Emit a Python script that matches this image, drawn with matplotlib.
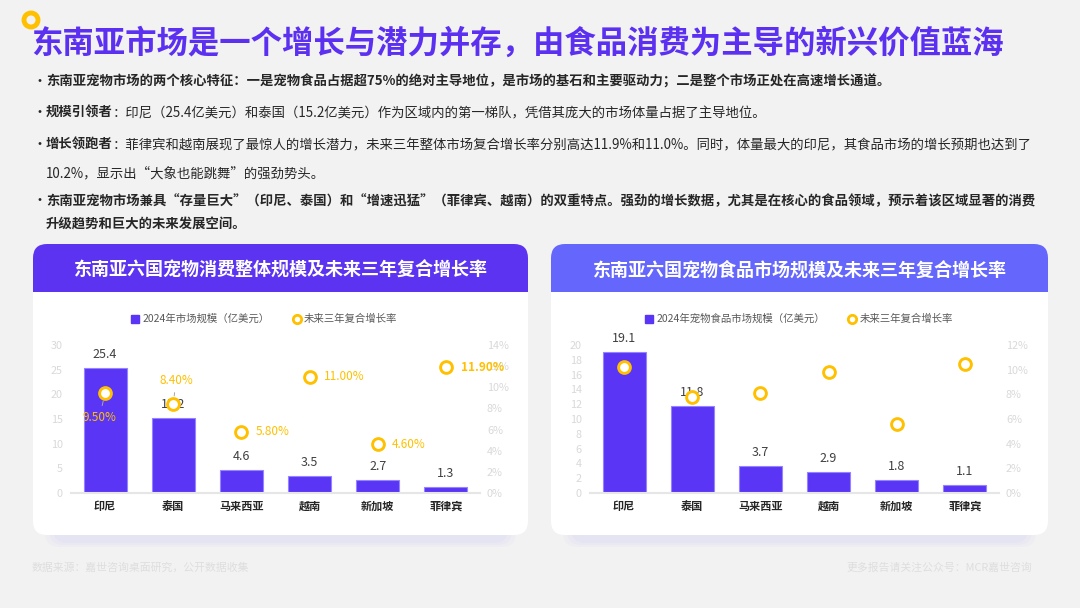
import matplotlib
matplotlib.use('Agg')
import matplotlib.pyplot as plt
from matplotlib.patches import FancyBboxPatch, Rectangle, Circle
from matplotlib.lines import Line2D

plt.rcParams['font.family'] = ['Noto Sans CJK SC', 'DejaVu Sans']

# ---- data ----
countries = ['印尼', '泰国', '马来西亚', '越南', '新加坡', '菲律宾']
total_size = [25.4, 15.2, 4.6, 3.5, 2.7, 1.3]      # 亿美元
total_cagr = [9.5, 8.4, 5.8, 11.0, 4.6, 11.9]      # %
food_size = [19.1, 11.8, 3.7, 2.9, 1.8, 1.1]       # 亿美元
food_cagr = [10.2, 7.8, 8.1, 9.8, 5.6, 10.5]       # %

PURPLE = '#5a35f5'
GOLD = '#ffc000'
W, H = 1080, 608

fig = plt.figure(figsize=(W / 100, H / 100), dpi=100)
fig.patch.set_facecolor('#f2f2f2')

# background axes in pixel units (y down)
bg = fig.add_axes([0, 0, 1, 1])
bg.set_xlim(0, W)
bg.set_ylim(H, 0)
bg.axis('off')

# title
bg.add_patch(Circle((31, 20), 7, fill=False, edgecolor=GOLD, lw=3.5))
bg.text(31, 44, '东南亚市场是一个增长与潜力并存，由食品消费为主导的新兴价值蓝海',
        fontsize=22.6, fontweight='bold', color='#5b30f0', va='center', ha='left')


def rich_line(x, y, parts, bullet=True):
    renderer = fig.canvas.get_renderer()
    if bullet:
        bg.text(32, y, '•', fontsize=10, color='#262626', va='center', ha='left')
    for s, weight in parts:
        t = bg.text(x, y, s, fontsize=9.6, fontweight=weight, color='#262626',
                    va='center', ha='left')
        x += t.get_window_extent(renderer).width


rich_line(46, 82, [('东南亚宠物市场的两个核心特征：一是宠物食品占据超75%的绝对主导地位，'
                    '是市场的基石和主要驱动力；二是整个市场正处在高速增长通道。', 'bold')])
rich_line(46, 113, [('规模引领者', 'bold'),
                    ('：印尼（25.4亿美元）和泰国（15.2亿美元）作为区域内的第一梯队，'
                     '凭借其庞大的市场体量占据了主导地位。', 'normal')])
rich_line(46, 145, [('增长领跑者', 'bold'),
                    ('：菲律宾和越南展现了最惊人的增长潜力，未来三年整体市场复合增长率分别高达11.9%和11.0%。'
                     '同时，体量最大的印尼，其食品市场的增长预期也达到了', 'normal')])
rich_line(46, 173, [('10.2%，显示出“大象也能跳舞”的强劲势头。', 'normal')], bullet=False)
rich_line(46, 201, [('东南亚宠物市场兼具“存量巨大”（印尼、泰国）和“增速迅猛”（菲律宾、越南）的双重特点。'
                     '强劲的增长数据，尤其是在核心的食品领域，预示着该区域显著的消费', 'bold')])
rich_line(46, 225, [('升级趋势和巨大的未来发展空间。', 'bold')], bullet=False)


def card(x0, x1, header_color, title):
    top, bottom, hb = 244, 535, 292
    for i, a in enumerate([0.08, 0.10, 0.12]):
        bg.add_patch(FancyBboxPatch((x0 + 12 + 4 * i, top + 20), x1 - x0 - 24 - 8 * i,
                                    bottom - top - 8 - 2 * i,
                                    boxstyle='round,pad=0,rounding_size=14',
                                    fc='#c8c0f5', ec='none', alpha=a))
    bg.add_patch(FancyBboxPatch((x0, top), x1 - x0, bottom - top,
                                boxstyle='round,pad=0,rounding_size=14', fc='white', ec='none'))
    bg.add_patch(FancyBboxPatch((x0, top), x1 - x0, hb - top + 20,
                                boxstyle='round,pad=0,rounding_size=14', fc=header_color, ec='none'))
    bg.add_patch(Rectangle((x0, hb), x1 - x0, 24, fc='white', ec='none'))
    bg.text((x0 + x1) / 2, 270, title, fontsize=13, fontweight='bold', color='white',
            va='center', ha='center')


card(33, 528, '#5b33f0', '东南亚六国宠物消费整体规模及未来三年复合增长率')
card(551, 1048, '#6466fc', '东南亚六国宠物食品市场规模及未来三年复合增长率')


def draw_chart(x0, sizes, rates, ymax, ystep, rmax, size_name, legend_x, rate_labels=None):
    ax = fig.add_axes([x0 / W, 1 - 493 / H, 409 / W, 148 / H])
    ax.patch.set_alpha(0)
    xs = list(range(len(countries)))
    bars = ax.bar(xs, sizes, width=0.63, color=PURPLE, edgecolor='#9384ff', linewidth=0.8, zorder=2)
    for b, v in zip(bars, sizes):
        ax.annotate(f'{v}', (b.get_x() + b.get_width() / 2, v), xytext=(0, 5),
                    textcoords='offset points', ha='center', va='bottom',
                    fontsize=9, color='#404040', annotation_clip=False)
    ax.set_xlim(-0.5, len(countries) - 0.5)
    ax.set_ylim(0, ymax)
    ax.set_yticks(range(0, ymax + 1, ystep))
    ax.set_xticks(xs)
    ax.set_xticklabels(countries, fontsize=8, fontweight='bold', color='#262626')
    ax.tick_params(axis='x', length=0, pad=5)
    ax.tick_params(axis='y', length=0, pad=6, labelsize=7.8, labelcolor='#d9d9d9')
    for s in ['top', 'left', 'right']:
        ax.spines[s].set_visible(False)
    ax.spines['bottom'].set_color('#e6e6e6')
    ax.spines['bottom'].set_linewidth(1.5)

    ax2 = ax.twinx()
    ax2.scatter(xs, rates, s=72, facecolor='white', edgecolor=GOLD, linewidth=2.1,
                zorder=5, clip_on=False)
    ax2.set_ylim(0, rmax)
    ticks = list(range(0, rmax + 1, 2))
    ax2.set_yticks(ticks)
    ax2.set_yticklabels([f'{t}%' for t in ticks])
    ax2.tick_params(axis='y', length=0, pad=5, labelsize=7.8, labelcolor='#d9d9d9')
    for s in ax2.spines.values():
        s.set_visible(False)

    if rate_labels:
        for xi, r, (dx, dy, ha, bold, leader) in zip(xs, rates, rate_labels):
            ax2.annotate(f'{r:.2f}%', (xi, r), xytext=(dx, dy), textcoords='offset points',
                         ha=ha, va='center', fontsize=8.5, color=GOLD,
                         fontweight='bold' if bold else 'normal',
                         arrowprops=dict(arrowstyle='-', color='#a6a6a6', lw=0.7,
                                         shrinkA=2, shrinkB=6) if leader else None,
                         annotation_clip=False, zorder=6)

    handles = [Line2D([], [], marker='s', ls='', color=PURPLE, ms=6),
               Line2D([], [], marker='o', ls='', mfc='white', mec=GOLD, mew=2, ms=6)]
    ax2.legend(handles, [size_name, '未来三年复合增长率'], ncol=2, frameon=False,
               loc='center', bbox_to_anchor=(legend_x / W, 1 - 319 / H),
               bbox_transform=fig.transFigure, fontsize=7.5, labelcolor='#595959',
               handlelength=0.8, handletextpad=0.3, columnspacing=2.2)


# label placement for the left chart: (dx, dy, ha, bold, leader line)
left_labels = [(-4, -18, 'center', False, True),
               (2, 17, 'center', False, True),
               (10, 0, 'left', False, False),
               (10, 0, 'left', False, False),
               (10, 0, 'left', False, False),
               (11, 0, 'left', True, False)]

draw_chart(71, total_size, total_cagr, 30, 5, 14, '2024年市场规模（亿美元）', 264, left_labels)
draw_chart(590, food_size, food_cagr, 20, 2, 12, '2024年宠物食品市场规模（亿美元）', 799)

# footer
bg.text(32, 568, '数据来源：嘉世咨询桌面研究，公开数据收集', fontsize=7.8, color='#dedede',
        va='center', ha='left')
bg.text(1032, 568, '更多报告请关注公众号：MCR嘉世咨询', fontsize=7.8, color='#dedede',
        va='center', ha='right')

fig.savefig('out.png', dpi=100, facecolor=fig.get_facecolor())
